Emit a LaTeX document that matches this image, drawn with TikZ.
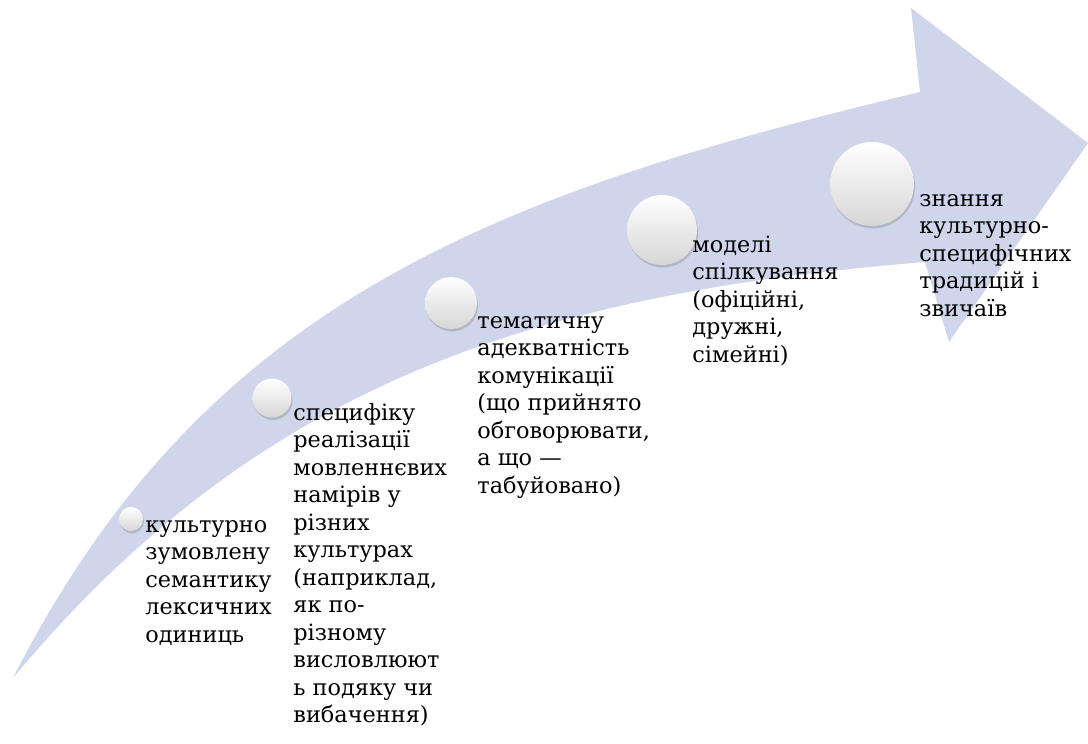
\documentclass[tikz,border=0pt]{standalone}
\usepackage{fontspec}
\setmainfont{DejaVu Serif}[Scale=0.83]
\usetikzlibrary{shadows}
\definecolor{bandblue}{RGB}{207,213,234}
\begin{document}
\begin{tikzpicture}[x=0.5pt,y=-0.5pt,
        bead/.style={circle, inner sep=0pt, shading=axis, top color=white,
            middle color=white, bottom color=black!16,
            drop shadow={shadow xshift=0.5pt, shadow yshift=-1.2pt, opacity=0.35}},
        txt/.style={anchor=base west, inner sep=0pt,
            font=\fontsize{13.5}{13.75}\selectfont}]
    \useasboundingbox (0,0) rectangle (1088,744);
    % curved arrow
    \fill[bandblue] (13,678) .. controls (257,385) and (531,294) .. (925,262)
        -- (949,342) -- (1088,143) -- (911,8) -- (920,92)
        .. controls (497,193) and (205,300) .. (13,678) -- cycle;
    % beads
    \node[bead, minimum size=12pt] (b1) at (131,519) {};
    \node[bead, minimum size=19.5pt] (b2) at (272,398) {};
    \node[bead, minimum size=26pt] (b3) at (451,303) {};
    \node[bead, minimum size=35pt] (b4) at (662,230) {};
    \node[bead, minimum size=42pt] (b5) at (872,184) {};
    % texts
    \node[txt] (t1) at (145,532) {\begin{tabular}[t]{@{}l@{}}культурно\\зумовлену\\семантику\\лексичних\\одиниць\end{tabular}};
    \node[txt] (t2) at (293,420) {\begin{tabular}[t]{@{}l@{}}специфіку\\реалізації\\мовленнєвих\\намірів у\\різних\\культурах\\(наприклад,\\як по-\\різному\\висловлюют\\ь подяку чи\\вибачення)\end{tabular}};
    \node[txt] (t3) at (477,328) {\begin{tabular}[t]{@{}l@{}}тематичну\\адекватність\\комунікації\\(що прийнято\\обговорювати,\\а що —\\табуйовано)\end{tabular}};
    \node[txt] (t4) at (692,252) {\begin{tabular}[t]{@{}l@{}}моделі\\спілкування\\(офіційні,\\дружні,\\сімейні)\end{tabular}};
    \node[txt] (t5) at (919,206) {\begin{tabular}[t]{@{}l@{}}знання\\культурно-\\специфічних\\традицій і\\звичаїв\end{tabular}};
\end{tikzpicture}
\end{document}
